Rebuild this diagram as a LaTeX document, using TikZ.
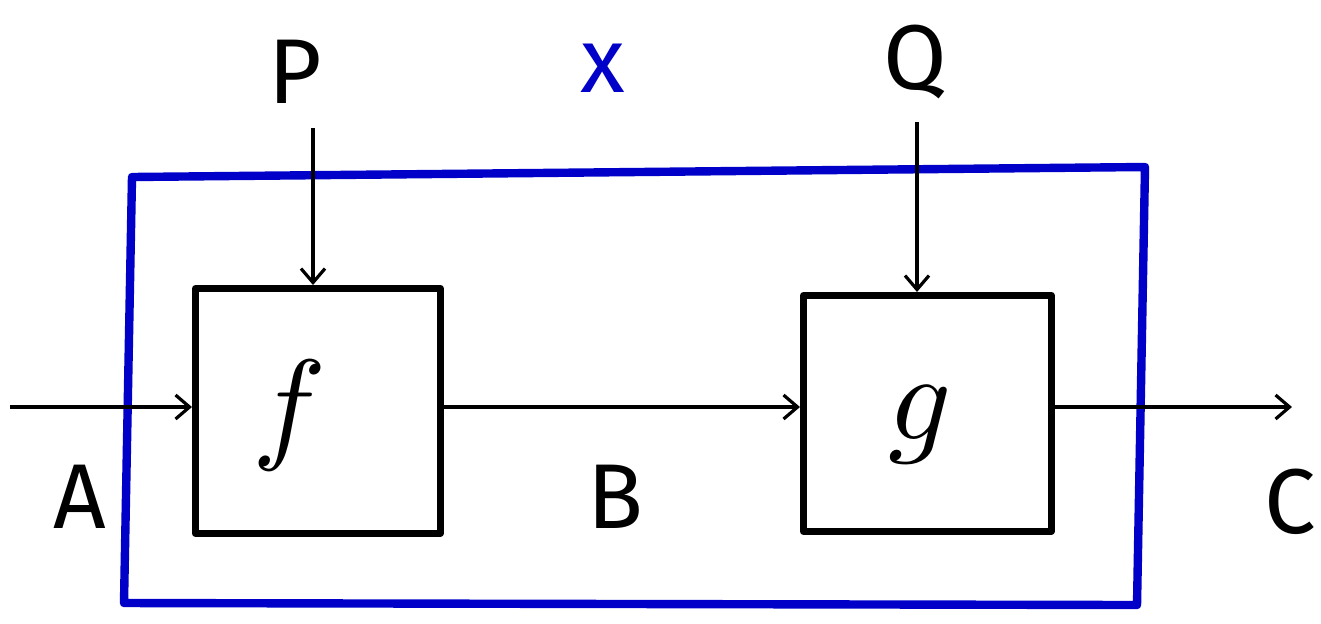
\documentclass[tikz,border=0pt]{standalone}
\usepackage{fontspec}
\setmainfont{Fira Sans}
\usetikzlibrary{arrows.meta}
\definecolor{penblue}{HTML}{0000C8}
\begin{document}
\begin{tikzpicture}[x=0.5pt,y=-0.5pt,
  blk/.style={draw=black,line width=3.4pt,line join=round},
  conn/.style={draw=black,line width=1.6pt,-{Straight Barb[length=7pt,width=12pt,line width=1.6pt]}},
  lbl/.style={font=\fontsize{46}{50}\selectfont,inner sep=0pt},
  fn/.style={inner sep=0pt}]
\useasboundingbox (0,0) rectangle (1321,623);
% outer blue system box
\draw[penblue,line width=4.2pt,line join=round] (132,177) -- (1145,167) -- (1137,605) -- (124,603) -- cycle;
% blocks
\node[blk,minimum width=122.5pt,minimum height=122.5pt,anchor=north west] (f) at (192,285) {};
\node[blk,minimum width=124pt,minimum height=118pt,anchor=north west] (g) at (800,292) {};
\node[fn] (fl) at (290,415) {\scalebox{6.2}{$f$}};
\node[fn] (gl) at (920,425) {\scalebox{6.2}{$g$}};
% free ends
\coordinate (in) at (10,407);
\coordinate (out) at (1292,407);
\coordinate (pt) at (313,128);
\coordinate (qt) at (917,122);
% connectors
\draw[conn] (in) -- (f.west|-in);
\draw[conn] (f.east|-in) -- (g.west|-in);
\draw[conn] (g.east|-out) -- (out);
\draw[conn] (pt) -- (pt|-f.north);
\draw[conn] (qt) -- (qt|-g.north);
% labels
\node[lbl] (P) at (295,72) {P};
\node[lbl] (Q) at (915,62) {Q};
\node[lbl,text=penblue] (X) at (603,68) {x};
\node[lbl] (A) at (80,497) {A};
\node[lbl] (B) at (615,497) {B};
\node[lbl] (C) at (1290,502) {C};
\end{tikzpicture}
\end{document}
